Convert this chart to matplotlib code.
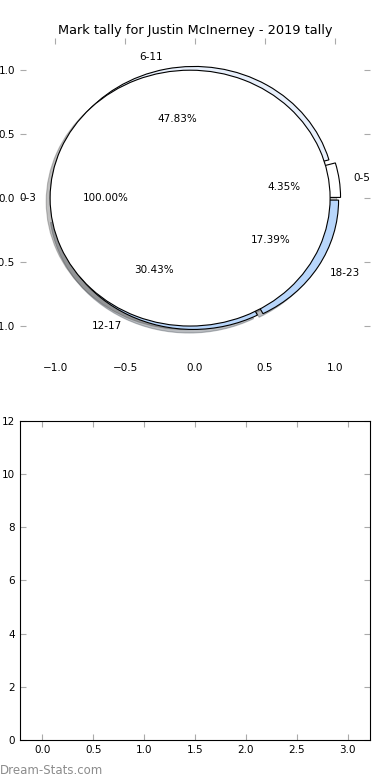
import matplotlib
matplotlib.use('Agg')
import matplotlib.pyplot as plt

# outer ring: marks by quarter-minute bands
outer_labels = ['0-5', '6-11', '12-17', '18-23']
outer_counts = [1, 11, 7, 4]
outer_colors = ['#ffffff', '#e8f0fc', '#b8d6fb', '#b8d6fb']

# inner pie
inner_labels = ['0-3']
inner_counts = [1]

# empty lower panel
bar_ylim = (0, 12)
bar_xlim = (-0.22, 3.22)

title = 'Mark tally for Justin McInerney - 2019 tally'
TICK_GREY = '#aaaaaa'
FS = 7.5

fig = plt.figure(figsize=(3.9, 7.8), dpi=100)

ax = fig.add_axes([0.0513, 0.541, 0.8974, 0.41])
wedge_props = {'edgecolor': 'black', 'linewidth': 0.8}
shadow = {'ox': -0.02, 'oy': -0.02, 'alpha': 0.35}
_, t1, a1 = ax.pie(outer_counts, labels=outer_labels, colors=outer_colors,
                   explode=[0.04, 0.03, 0.03, 0.03], autopct='%.2f%%',
                   shadow=shadow, wedgeprops=wedge_props,
                   textprops={'fontsize': FS})
_, t2, a2 = ax.pie(inner_counts, labels=inner_labels, colors=['white'],
                   explode=[0.035], autopct='%.2f%%', shadow=shadow,
                   wedgeprops=wedge_props, textprops={'fontsize': FS})
ax.set_aspect('auto')
ax.set_xlim(-1.25, 1.25)
ax.set_ylim(-1.25, 1.25)
ax.set_xticks([-1.0, -0.5, 0.0, 0.5, 1.0])
ax.set_yticks([-1.0, -0.5, 0.0, 0.5, 1.0])
ax.tick_params(direction='in', color=TICK_GREY, labelsize=FS, length=4,
               top=True, right=True, bottom=False)
ax.set_title(title, fontsize=9.3, pad=3)

ax2 = fig.add_axes([0.0513, 0.0513, 0.8974, 0.409])
ax2.set_xlim(*bar_xlim)
ax2.set_ylim(*bar_ylim)
ax2.set_xticks([0.0, 0.5, 1.0, 1.5, 2.0, 2.5, 3.0])
ax2.set_yticks([0, 2, 4, 6, 8, 10, 12])
ax2.tick_params(direction='in', color=TICK_GREY, labelsize=FS, length=4,
                top=True, right=True)
for s in ax2.spines.values():
    s.set_linewidth(0.8)

fig.text(0.0, 0.0128, 'Dream-Stats.com', color='#8c8c8c', fontsize=8.5,
         ha='left', va='center')

fig.savefig('out.png', dpi=100)
